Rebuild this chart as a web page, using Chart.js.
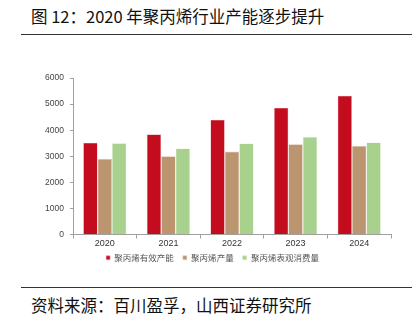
<!DOCTYPE html>
<html>
<head>
<meta charset="utf-8">
<script src="https://cdn.jsdelivr.net/npm/chart.js@4"></script>
<style>
  body { margin: 0; background: #fff; width: 417px; height: 322px; position: relative; overflow: hidden; font-family: "Noto Sans CJK SC", sans-serif; }
  #title { position: absolute; left: 31px; top: 4px; font-size: 16.5px; color: #111; white-space: nowrap; }
  .rule { position: absolute; left: 21px; width: 391px; height: 1px; background: #333; }
  #source { position: absolute; left: 31px; top: 293px; font-size: 16.5px; color: #111; white-space: nowrap; }
  #wrap { position: absolute; left: 0; top: 40px; width: 417px; height: 240px; }
</style>
</head>
<body>
<div id="title">图 12：2020 年聚丙烯行业产能逐步提升</div>
<div class="rule" style="top:34px"></div>
<div id="wrap"><canvas id="c"></canvas></div>
<div class="rule" style="top:287px"></div>
<div id="source">资料来源：百川盈孚，山西证券研究所</div>
<script>
const years = ['2020', '2021', '2022', '2023', '2024'];
const capacity = [3520, 3840, 4400, 4860, 5320];    // 聚丙烯有效产能
const output = [2900, 3000, 3180, 3460, 3400];      // 聚丙烯产量
const consumption = [3500, 3300, 3490, 3740, 3530]; // 聚丙烯表观消费量
const yTicks = [0, 1000, 2000, 3000, 4000, 5000, 6000];

const axisGrey = '#a0a0a0';

// legend in the source sits a bit right of centre and close under the axis
const nudgeLegend = {
    id: 'nudgeLegend',
    afterLayout(chart) {
        const lg = chart.legend;
        lg.left += 17;
        lg.right += 17;
        lg.top -= 8;
        lg.bottom -= 8;
    }
};

new Chart(document.getElementById('c'), {
    type: 'bar',
    data: {
        labels: years,
        datasets: [
            { label: '聚丙烯有效产能', data: capacity, backgroundColor: '#c30d1f', borderColor: '#e8b0b4', borderWidth: 0.6 },
            { label: '聚丙烯产量', data: output, backgroundColor: '#bb9570', borderColor: '#e6d3bf', borderWidth: 0.6 },
            { label: '聚丙烯表观消费量', data: consumption, backgroundColor: '#a9d18e', borderColor: '#dcecd0', borderWidth: 0.6 }
        ]
    },
    plugins: [nudgeLegend],
    options: {
        responsive: true,
        maintainAspectRatio: false,
        animation: false,
        layout: { padding: { left: 0, right: 26, top: 38, bottom: 0 } },
        datasets: { bar: { barPercentage: 1, categoryPercentage: 0.68 } },
        plugins: {
            tooltip: { enabled: false },
            legend: {
                position: 'bottom',
                labels: {
                    boxWidth: 4, boxHeight: 4, padding: 9,
                    color: '#555',
                    font: { family: '"Noto Sans CJK SC"', size: 8.5 }
                }
            }
        },
        scales: {
            x: {
                grid: { display: true, drawOnChartArea: false, drawTicks: true, tickLength: 4, color: axisGrey, offset: true },
                border: { color: axisGrey, width: 1 },
                ticks: { color: '#333', font: { family: '"Liberation Sans", Arial', size: 9 }, padding: 0 },
                afterFit(scale) { scale.height = 18; }
            },
            y: {
                min: 0, max: 6000,
                afterBuildTicks(scale) { scale.ticks = yTicks.map(v => ({ value: v })); },
                grid: { display: true, drawOnChartArea: false, drawTicks: true, tickLength: 3, color: axisGrey },
                border: { color: axisGrey, width: 1 },
                ticks: { color: '#444', font: { family: '"Liberation Sans", Arial', size: 8.5 }, padding: 6, callback: v => String(v) },
                afterFit(scale) { scale.width = 73; }
            }
        }
    }
});
</script>
</body>
</html>
